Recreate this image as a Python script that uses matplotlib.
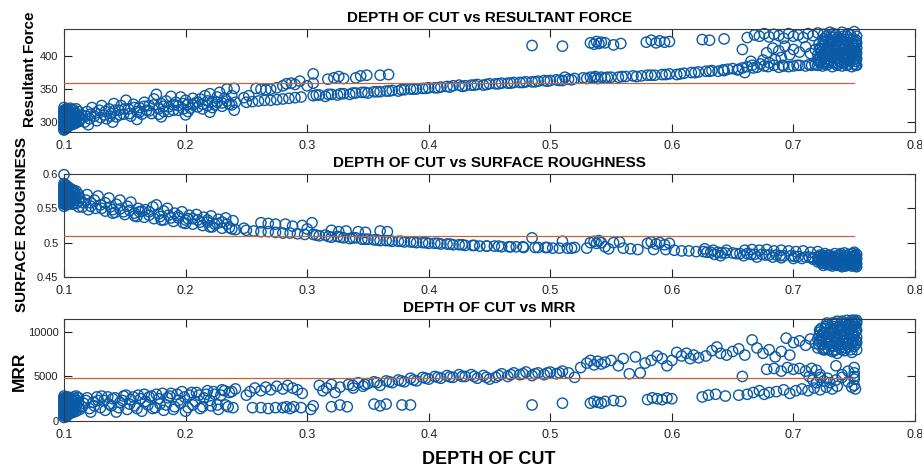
import matplotlib
matplotlib.use("Agg")
import matplotlib.pyplot as plt
import numpy as np

plt.rcParams["font.family"] = ["Liberation Sans", "DejaVu Sans"]

# ---------------------------------------------------------------
# Depth of cut vs resultant force  (depth, force)
# ---------------------------------------------------------------
force_start = [
    (0.100, 288), (0.100, 292), (0.100, 296), (0.100, 300), (0.100, 304), (0.100, 308), (0.100, 312), (0.100, 316),
    (0.101, 290), (0.101, 294), (0.101, 298), (0.101, 302), (0.101, 306), (0.101, 310), (0.101, 314),
    (0.102, 291), (0.102, 296), (0.102, 301), (0.102, 306), (0.102, 311), (0.102, 316),
    (0.103, 293), (0.103, 298), (0.103, 303), (0.103, 308), (0.103, 313),
    (0.104, 294), (0.104, 300), (0.104, 306), (0.104, 312), (0.104, 318),
    (0.106, 296), (0.106, 302), (0.106, 309), (0.106, 315),
    (0.108, 297), (0.108, 304), (0.108, 311), (0.108, 318),
    (0.110, 299), (0.110, 306), (0.110, 313), (0.110, 320),
    (0.100, 289), (0.100, 294), (0.100, 298), (0.100, 302), (0.100, 306), (0.100, 310), (0.100, 314),
    (0.100, 318), (0.100, 322), (0.101, 292), (0.101, 296), (0.101, 300), (0.101, 304), (0.101, 308),
    (0.101, 312), (0.101, 318), (0.102, 293), (0.102, 298), (0.102, 303), (0.102, 308), (0.102, 313),
    (0.102, 320), (0.103, 295), (0.103, 300), (0.103, 305), (0.103, 310), (0.103, 316), (0.105, 297),
    (0.105, 303), (0.105, 309), (0.105, 314), (0.105, 321), (0.107, 298), (0.107, 305), (0.107, 312),
    (0.107, 319), (0.109, 300), (0.109, 307), (0.109, 314), (0.112, 301), (0.112, 309), (0.112, 316),
]
force_rise = [
    (0.113, 303), (0.115, 310), (0.117, 300), (0.119, 316), (0.121, 305), (0.123, 322), (0.125, 309),
    (0.127, 302), (0.129, 318), (0.131, 325), (0.133, 311), (0.135, 305), (0.137, 320), (0.139, 313),
    (0.141, 328), (0.143, 308), (0.145, 318), (0.147, 325), (0.149, 312), (0.151, 333), (0.153, 320),
    (0.155, 309), (0.157, 327), (0.160, 316), (0.162, 322), (0.164, 312), (0.166, 330), (0.168, 318),
    (0.170, 325), (0.172, 313), (0.174, 335), (0.176, 342), (0.178, 320), (0.180, 328), (0.182, 316),
    (0.184, 332), (0.186, 323), (0.188, 339), (0.190, 318), (0.192, 330), (0.194, 325), (0.196, 338),
    (0.198, 320), (0.200, 333), (0.202, 327), (0.204, 321), (0.206, 336), (0.208, 329), (0.210, 323),
    (0.212, 335), (0.214, 327), (0.216, 340), (0.218, 325), (0.220, 343), (0.222, 331), (0.224, 326),
    (0.226, 338), (0.228, 345), (0.230, 329), (0.232, 336), (0.234, 350), (0.236, 327), (0.238, 340),
    (0.240, 351), (0.241, 330),
    (0.120, 296), (0.140, 300), (0.160, 304), (0.180, 308), (0.200, 311), (0.220, 315), (0.240, 318),
    (0.114, 306), (0.118, 309), (0.122, 312), (0.126, 314), (0.130, 307), (0.134, 316), (0.138, 309),
    (0.142, 318), (0.146, 311), (0.150, 320), (0.154, 313), (0.158, 322), (0.162, 315), (0.166, 324),
    (0.170, 317), (0.174, 326), (0.178, 312), (0.182, 324), (0.186, 316), (0.190, 326), (0.194, 318),
    (0.198, 328), (0.202, 316), (0.206, 326), (0.210, 330), (0.214, 320), (0.218, 332), (0.222, 322),
    (0.226, 330), (0.230, 324), (0.234, 332), (0.238, 326),
]
force_middle = [
    (0.250, 330), (0.255, 331), (0.260, 332), (0.265, 333), (0.270, 333), (0.275, 334), (0.280, 335),
    (0.285, 336), (0.290, 337), (0.295, 338),
    (0.248, 337), (0.252, 340), (0.258, 351), (0.262, 350), (0.266, 349), (0.270, 350), (0.275, 352),
    (0.280, 355), (0.283, 358), (0.287, 359), (0.290, 357), (0.294, 362), (0.300, 355), (0.305, 359),
    (0.305, 373),
    (0.305, 340), (0.310, 341), (0.315, 339), (0.320, 342), (0.325, 341), (0.330, 343), (0.335, 342),
    (0.340, 344), (0.345, 345), (0.350, 344), (0.355, 346), (0.360, 346), (0.365, 347), (0.370, 348),
    (0.375, 347), (0.380, 349), (0.385, 350), (0.390, 350), (0.395, 351), (0.400, 352), (0.405, 352),
    (0.410, 353), (0.415, 354), (0.420, 355), (0.425, 356), (0.430, 355),
    (0.3075, 341), (0.3175, 342), (0.3275, 343), (0.3375, 344), (0.3475, 345), (0.3575, 346),
    (0.3675, 347), (0.3775, 349), (0.3875, 350), (0.3975, 351), (0.4075, 352), (0.4175, 353),
    (0.4275, 354), (0.4375, 356), (0.4475, 357), (0.4575, 358), (0.4675, 359), (0.4775, 360),
    (0.4875, 361), (0.4975, 362), (0.5075, 363), (0.5175, 364),
    (0.317, 365), (0.322, 367), (0.326, 369), (0.330, 366), (0.340, 367), (0.344, 370), (0.349, 371),
    (0.360, 371), (0.367, 372),
    (0.435, 356), (0.440, 357), (0.445, 356), (0.450, 358), (0.455, 358), (0.460, 359), (0.465, 359),
    (0.470, 360), (0.475, 360), (0.480, 361), (0.485, 361), (0.490, 362), (0.495, 363), (0.500, 363),
    (0.505, 364), (0.510, 363), (0.515, 365), (0.520, 366), (0.512, 368),
    (0.530, 366), (0.533, 368), (0.536, 367), (0.539, 366), (0.542, 368), (0.545, 367), (0.550, 368),
    (0.556, 368), (0.562, 369), (0.568, 370), (0.575, 370), (0.580, 371), (0.586, 371), (0.592, 372),
    (0.598, 373), (0.604, 372), (0.610, 374), (0.616, 375),
    (0.527, 367), (0.537, 369), (0.547, 368), (0.559, 369), (0.571, 369), (0.583, 371), (0.595, 372),
    (0.607, 373), (0.619, 375), (0.631, 377), (0.643, 378), (0.655, 380), (0.667, 382), (0.679, 384),
    (0.691, 386), (0.703, 386), (0.713, 387),
    (0.622, 376), (0.628, 377), (0.633, 378), (0.638, 377), (0.642, 379), (0.646, 380), (0.650, 381),
    (0.654, 379), (0.658, 382), (0.662, 384), (0.666, 386), (0.670, 383), (0.673, 388), (0.676, 385),
    (0.680, 390), (0.684, 386), (0.688, 383), (0.692, 385), (0.696, 384), (0.700, 385), (0.705, 386),
    (0.710, 385), (0.715, 386), (0.718, 387), (0.660, 375),
    (0.665, 392), (0.675, 394), (0.685, 395), (0.690, 398),
]
force_high = [
    (0.485, 416), (0.510, 415), (0.533, 420), (0.536, 418), (0.538, 422), (0.540, 419), (0.542, 421),
    (0.545, 420), (0.552, 417), (0.558, 419), (0.579, 421), (0.583, 424), (0.587, 420), (0.590, 423),
    (0.594, 421), (0.598, 422), (0.625, 425), (0.631, 424), (0.643, 426), (0.658, 410), (0.662, 428),
    (0.668, 432), (0.672, 430), (0.676, 434), (0.680, 429), (0.684, 433), (0.688, 431), (0.692, 427),
    (0.696, 434), (0.700, 430), (0.704, 432), (0.708, 428), (0.712, 434), (0.716, 431), (0.720, 435),
    (0.725, 433), (0.730, 436), (0.735, 432), (0.740, 436), (0.745, 434), (0.750, 437),
    (0.678, 405), (0.683, 412), (0.688, 408), (0.693, 415), (0.697, 402), (0.700, 410), (0.705, 406),
    (0.710, 414), (0.714, 404), (0.718, 410), (0.722, 400), (0.745, 402), (0.750, 408), (0.750, 415),
    (0.748, 420),
]
force_end = [
    (0.720, 386), (0.720, 394), (0.720, 402), (0.722, 390), (0.722, 410), (0.724, 385), (0.724, 398),
    (0.724, 415), (0.726, 392), (0.726, 405), (0.726, 420), (0.728, 387), (0.728, 400), (0.728, 412),
    (0.728, 425), (0.730, 394), (0.730, 406), (0.730, 418), (0.732, 384), (0.732, 398), (0.732, 410),
    (0.732, 428), (0.734, 390), (0.734, 404), (0.734, 416), (0.736, 386), (0.736, 396), (0.736, 408),
    (0.736, 422), (0.738, 392), (0.738, 402), (0.738, 414), (0.740, 385), (0.740, 398), (0.740, 410),
    (0.740, 426), (0.742, 390), (0.742, 404), (0.742, 418), (0.744, 386), (0.744, 396), (0.744, 408),
    (0.744, 430), (0.746, 392), (0.746, 402), (0.746, 414), (0.748, 384), (0.748, 398), (0.748, 410),
    (0.750, 388), (0.750, 396), (0.750, 404), (0.750, 412), (0.751, 392), (0.751, 400), (0.752, 386),
    (0.752, 420), (0.752, 430),
    (0.721, 398), (0.723, 406), (0.725, 388), (0.727, 396), (0.729, 408), (0.731, 390), (0.733, 402),
    (0.735, 420), (0.737, 388), (0.739, 406), (0.741, 394), (0.743, 412), (0.745, 388), (0.747, 406),
    (0.749, 394), (0.751, 418), (0.751, 386), (0.749, 426), (0.747, 432), (0.739, 424), (0.731, 424),
    (0.725, 426), (0.741, 430), (0.733, 434), (0.727, 430), (0.745, 420), (0.737, 416), (0.729, 418),
    (0.721, 418), (0.751, 408), (0.752, 396), (0.752, 405), (0.752, 412),
    (0.7215, 392), (0.7215, 412), (0.7245, 402), (0.7245, 422), (0.7275, 390), (0.7275, 410),
    (0.7305, 400), (0.7305, 430), (0.7335, 396), (0.7335, 412), (0.7365, 402), (0.7365, 428),
    (0.7395, 390), (0.7395, 418), (0.7425, 398), (0.7425, 425), (0.7455, 410), (0.7455, 396),
    (0.7485, 404), (0.7485, 416), (0.7515, 396), (0.7515, 424),
]
force_ref = 359

# ---------------------------------------------------------------
# Depth of cut vs surface roughness  (depth, roughness)
# ---------------------------------------------------------------
rough_start = [
    (0.100, 0.599), (0.100, 0.586), (0.100, 0.580), (0.100, 0.574), (0.100, 0.568), (0.100, 0.562),
    (0.100, 0.556), (0.101, 0.584), (0.101, 0.577), (0.101, 0.570), (0.101, 0.563), (0.101, 0.556),
    (0.102, 0.583), (0.102, 0.575), (0.102, 0.567), (0.102, 0.559), (0.103, 0.581), (0.103, 0.573),
    (0.103, 0.565), (0.103, 0.557), (0.104, 0.580), (0.104, 0.571), (0.104, 0.562), (0.106, 0.578),
    (0.106, 0.569), (0.106, 0.560), (0.108, 0.576), (0.108, 0.567), (0.108, 0.558), (0.110, 0.575),
    (0.110, 0.565), (0.110, 0.557),
    (0.100, 0.583), (0.100, 0.577), (0.100, 0.571), (0.100, 0.565), (0.100, 0.559), (0.100, 0.553),
    (0.101, 0.580), (0.101, 0.573), (0.101, 0.566), (0.101, 0.559), (0.102, 0.579), (0.102, 0.571),
    (0.102, 0.563), (0.102, 0.555), (0.103, 0.577), (0.103, 0.569), (0.103, 0.561), (0.105, 0.576),
    (0.105, 0.567), (0.105, 0.558), (0.107, 0.574), (0.107, 0.565), (0.107, 0.556), (0.109, 0.572),
    (0.109, 0.562), (0.112, 0.570), (0.112, 0.560), (0.112, 0.552),
]
rough_fall = [
    (0.113, 0.565), (0.116, 0.558), (0.119, 0.570), (0.122, 0.553), (0.125, 0.562), (0.128, 0.568),
    (0.131, 0.550), (0.134, 0.558), (0.137, 0.565), (0.140, 0.548), (0.143, 0.556), (0.146, 0.562),
    (0.149, 0.545), (0.152, 0.553), (0.155, 0.559), (0.158, 0.543), (0.161, 0.550), (0.164, 0.546),
    (0.167, 0.548), (0.170, 0.540), (0.173, 0.552), (0.176, 0.555), (0.179, 0.538), (0.182, 0.546),
    (0.185, 0.550), (0.188, 0.536), (0.191, 0.543), (0.194, 0.539), (0.197, 0.545), (0.200, 0.533),
    (0.203, 0.540), (0.206, 0.535), (0.209, 0.541), (0.212, 0.530), (0.215, 0.537), (0.218, 0.533),
    (0.221, 0.539), (0.224, 0.527), (0.227, 0.534), (0.230, 0.530), (0.233, 0.536), (0.236, 0.522),
    (0.239, 0.532), (0.241, 0.519),
    (0.120, 0.548), (0.140, 0.543), (0.160, 0.538), (0.180, 0.533), (0.200, 0.528), (0.220, 0.523),
    (0.115, 0.552), (0.118, 0.562), (0.122, 0.558), (0.126, 0.550), (0.130, 0.555), (0.134, 0.546),
    (0.138, 0.552), (0.142, 0.544), (0.146, 0.549), (0.150, 0.541), (0.154, 0.547), (0.158, 0.539),
    (0.162, 0.545), (0.166, 0.537), (0.170, 0.545), (0.174, 0.535), (0.178, 0.542), (0.182, 0.533),
    (0.186, 0.540), (0.190, 0.531), (0.194, 0.536), (0.198, 0.529), (0.202, 0.535), (0.206, 0.527),
    (0.210, 0.533), (0.214, 0.525), (0.218, 0.530), (0.222, 0.523), (0.226, 0.528), (0.230, 0.521),
    (0.234, 0.527), (0.238, 0.520),
]
rough_middle = [
    (0.250, 0.518), (0.256, 0.517), (0.262, 0.516), (0.268, 0.516), (0.274, 0.515), (0.280, 0.514),
    (0.286, 0.514), (0.292, 0.513), (0.298, 0.512),
    (0.248, 0.521), (0.262, 0.529), (0.268, 0.528), (0.274, 0.527), (0.282, 0.527), (0.288, 0.524),
    (0.296, 0.525), (0.304, 0.529), (0.300, 0.520),
    (0.305, 0.512), (0.310, 0.510), (0.315, 0.511), (0.320, 0.508), (0.325, 0.509), (0.330, 0.507),
    (0.335, 0.506), (0.340, 0.507), (0.345, 0.505), (0.350, 0.505), (0.355, 0.504), (0.360, 0.503),
    (0.365, 0.503), (0.370, 0.502), (0.375, 0.502), (0.380, 0.501), (0.385, 0.501), (0.390, 0.500),
    (0.395, 0.500), (0.400, 0.499), (0.405, 0.499), (0.410, 0.498), (0.415, 0.498), (0.420, 0.497),
    (0.425, 0.497),
    (0.3075, 0.511), (0.3175, 0.509), (0.3275, 0.508), (0.3375, 0.507), (0.3475, 0.505),
    (0.3575, 0.504), (0.3675, 0.503), (0.3775, 0.502), (0.3875, 0.501), (0.3975, 0.500),
    (0.4075, 0.499), (0.4175, 0.498), (0.4275, 0.497), (0.4375, 0.496), (0.4475, 0.495),
    (0.4575, 0.495), (0.4675, 0.494), (0.4775, 0.494), (0.4875, 0.493), (0.4975, 0.493),
    (0.5075, 0.492), (0.5175, 0.492),
    (0.320, 0.518), (0.326, 0.516), (0.332, 0.517), (0.342, 0.516), (0.348, 0.515), (0.360, 0.517),
    (0.366, 0.516),
    (0.430, 0.496), (0.436, 0.496), (0.442, 0.495), (0.448, 0.495), (0.454, 0.495), (0.460, 0.494),
    (0.466, 0.494), (0.472, 0.494), (0.478, 0.493), (0.485, 0.507), (0.490, 0.493), (0.496, 0.493),
    (0.502, 0.492), (0.510, 0.502), (0.514, 0.492), (0.520, 0.493),
    (0.530, 0.492), (0.533, 0.500), (0.536, 0.502), (0.538, 0.499), (0.540, 0.503), (0.542, 0.500),
    (0.545, 0.494), (0.548, 0.491), (0.552, 0.500), (0.557, 0.501), (0.560, 0.492), (0.566, 0.491),
    (0.572, 0.490), (0.580, 0.499), (0.583, 0.501), (0.587, 0.498), (0.590, 0.500), (0.594, 0.497),
    (0.598, 0.499), (0.585, 0.490), (0.595, 0.490), (0.602, 0.489), (0.608, 0.488), (0.614, 0.488),
    (0.620, 0.487),
    (0.626, 0.487), (0.632, 0.486), (0.638, 0.486), (0.644, 0.485), (0.650, 0.485), (0.656, 0.484),
    (0.662, 0.484), (0.668, 0.483), (0.674, 0.483), (0.680, 0.482), (0.686, 0.482), (0.692, 0.481),
    (0.698, 0.481), (0.704, 0.480), (0.710, 0.479), (0.716, 0.478), (0.640, 0.481), (0.670, 0.479),
    (0.700, 0.477), (0.690, 0.478),
    (0.629, 0.486), (0.641, 0.485), (0.653, 0.484), (0.665, 0.483), (0.677, 0.482), (0.689, 0.481),
    (0.701, 0.480), (0.713, 0.479), (0.635, 0.483), (0.659, 0.481), (0.683, 0.479), (0.707, 0.477),
    (0.716, 0.476),
    (0.627, 0.491), (0.634, 0.489), (0.645, 0.489), (0.660, 0.489), (0.666, 0.490), (0.672, 0.489),
    (0.678, 0.490), (0.684, 0.488), (0.690, 0.489), (0.696, 0.488), (0.702, 0.487), (0.708, 0.488),
    (0.714, 0.486), (0.720, 0.487),
]
rough_end = [
    (0.720, 0.478), (0.720, 0.472), (0.722, 0.482), (0.724, 0.476), (0.724, 0.470), (0.726, 0.484),
    (0.726, 0.479), (0.728, 0.473), (0.728, 0.468), (0.730, 0.481), (0.730, 0.476), (0.732, 0.471),
    (0.732, 0.466), (0.734, 0.484), (0.734, 0.478), (0.736, 0.473), (0.736, 0.467), (0.738, 0.482),
    (0.738, 0.476), (0.740, 0.470), (0.740, 0.465), (0.742, 0.485), (0.742, 0.479), (0.744, 0.474),
    (0.744, 0.468), (0.746, 0.483), (0.746, 0.477), (0.748, 0.471), (0.748, 0.466), (0.750, 0.486),
    (0.750, 0.480), (0.750, 0.474), (0.750, 0.468), (0.752, 0.483), (0.752, 0.477), (0.752, 0.470),
    (0.752, 0.465),
    (0.721, 0.480), (0.721, 0.474), (0.723, 0.477), (0.723, 0.471), (0.725, 0.481), (0.725, 0.474),
    (0.727, 0.477), (0.727, 0.470), (0.729, 0.482), (0.729, 0.474), (0.731, 0.478), (0.731, 0.468),
    (0.733, 0.480), (0.733, 0.474), (0.735, 0.476), (0.735, 0.469), (0.737, 0.479), (0.737, 0.471),
    (0.739, 0.484), (0.739, 0.467), (0.741, 0.476), (0.741, 0.472), (0.743, 0.481), (0.743, 0.466),
    (0.745, 0.479), (0.745, 0.470), (0.747, 0.474), (0.747, 0.468), (0.749, 0.484), (0.749, 0.478),
    (0.751, 0.472), (0.751, 0.466), (0.751, 0.481), (0.749, 0.468),
    (0.7215, 0.476), (0.7245, 0.481), (0.7245, 0.467), (0.7275, 0.475), (0.7305, 0.472),
    (0.7335, 0.469), (0.7365, 0.481), (0.7395, 0.474), (0.7425, 0.469), (0.7455, 0.475),
    (0.7485, 0.480), (0.7515, 0.475), (0.7515, 0.468), (0.7485, 0.473),
]
rough_ref = 0.51

# ---------------------------------------------------------------
# Depth of cut vs material removal rate  (depth, MRR)
# ---------------------------------------------------------------
mrr_start = [
    (0.100, 400), (0.100, 800), (0.100, 1200), (0.100, 1600), (0.100, 2000), (0.100, 2400), (0.100, 2800),
    (0.101, 600), (0.101, 1000), (0.101, 1400), (0.101, 1800), (0.101, 2200), (0.101, 2600),
    (0.102, 500), (0.102, 900), (0.102, 1300), (0.102, 1700), (0.102, 2100), (0.102, 2500),
    (0.103, 700), (0.103, 1100), (0.103, 1500), (0.103, 1900), (0.103, 2300), (0.103, 2700),
    (0.104, 800), (0.104, 1300), (0.104, 1800), (0.104, 2300),
    (0.106, 900), (0.106, 1400), (0.106, 1900), (0.106, 2400),
    (0.108, 1000), (0.108, 1600), (0.108, 2200), (0.108, 2700),
    (0.110, 1100), (0.110, 1700), (0.110, 2300), (0.110, 2800),
    (0.100, 600), (0.100, 1000), (0.100, 1400), (0.100, 1800), (0.100, 2200), (0.100, 2600),
    (0.101, 800), (0.101, 1200), (0.101, 1600), (0.101, 2000), (0.101, 2400), (0.102, 700),
    (0.102, 1100), (0.102, 1500), (0.102, 1900), (0.102, 2300), (0.102, 2700), (0.103, 900),
    (0.103, 1300), (0.103, 1700), (0.103, 2100), (0.103, 2500), (0.105, 1000), (0.105, 1500),
    (0.105, 2000), (0.105, 2500), (0.107, 1100), (0.107, 1700), (0.107, 2300), (0.109, 1300),
    (0.109, 1900), (0.109, 2500), (0.112, 1500), (0.112, 2100), (0.112, 2600),
]
mrr_rise = [
    (0.113, 1300), (0.116, 2000), (0.119, 2600), (0.122, 1000), (0.125, 1700), (0.128, 2300),
    (0.131, 2800), (0.134, 1200), (0.137, 1900), (0.140, 2500), (0.143, 1000), (0.146, 2100),
    (0.149, 2800), (0.152, 1300), (0.155, 2400), (0.158, 1700), (0.161, 2900), (0.164, 1100),
    (0.167, 2200), (0.170, 2700), (0.173, 1400), (0.176, 3000), (0.179, 1900), (0.182, 1200),
    (0.185, 2600), (0.188, 3100), (0.191, 1600), (0.194, 2300), (0.197, 3300), (0.200, 1100),
    (0.203, 2900), (0.206, 1800), (0.209, 3200), (0.212, 1400), (0.215, 2600), (0.218, 3400),
    (0.221, 1700), (0.224, 3000), (0.227, 1300), (0.230, 3500), (0.233, 1800), (0.236, 3200),
    (0.239, 1500), (0.241, 3600),
    (0.115, 1600), (0.118, 2300), (0.121, 1400), (0.124, 2100), (0.127, 2700), (0.130, 1500),
    (0.133, 2300), (0.136, 2700), (0.139, 1700), (0.142, 2600), (0.145, 1500), (0.148, 2300),
    (0.151, 2900), (0.154, 1900), (0.157, 2700), (0.160, 1400), (0.163, 2500), (0.166, 3000),
    (0.169, 1800), (0.172, 2800), (0.175, 1500), (0.178, 2500), (0.181, 3100), (0.184, 1800),
    (0.187, 2800), (0.190, 1300), (0.193, 3000), (0.196, 2000), (0.199, 2700), (0.202, 1500),
    (0.205, 3200), (0.208, 2200), (0.211, 2900), (0.214, 1600), (0.217, 3000), (0.220, 2300),
    (0.223, 3300), (0.226, 1800), (0.229, 2900), (0.232, 3400), (0.235, 1600), (0.238, 3300),
]
mrr_middle = [
    (0.250, 2900), (0.253, 3300), (0.257, 3700), (0.262, 3400), (0.266, 3800), (0.270, 3500),
    (0.275, 3900), (0.280, 3600), (0.284, 4000), (0.288, 3700), (0.292, 3500), (0.296, 3100),
    (0.255, 1500), (0.262, 1500), (0.268, 1400), (0.274, 1500), (0.280, 1500), (0.283, 1600),
    (0.286, 1400), (0.289, 1600), (0.295, 1500), (0.303, 1300), (0.305, 1700),
    (0.310, 4000), (0.313, 3400), (0.316, 3700), (0.320, 4100), (0.323, 3200), (0.327, 3800),
    (0.334, 4100), (0.338, 3700), (0.342, 4300), (0.346, 3900), (0.350, 4200), (0.355, 4400),
    (0.360, 4000), (0.365, 4500), (0.370, 4300), (0.375, 4600), (0.380, 4400), (0.385, 4800),
    (0.390, 4500), (0.395, 4900), (0.400, 4700), (0.405, 5000), (0.410, 4800), (0.415, 5100),
    (0.420, 4900), (0.425, 5200),
    (0.3375, 4000), (0.3475, 4100), (0.3575, 4300), (0.3675, 4400), (0.3775, 4500), (0.3875, 4600),
    (0.3975, 4800), (0.4075, 4900), (0.4175, 4950), (0.4275, 5000), (0.4375, 5000), (0.4475, 4900),
    (0.4575, 5100), (0.4675, 5200), (0.4775, 5300), (0.4875, 5300), (0.4975, 5400), (0.5075, 5400),
    (0.320, 1600), (0.327, 1800), (0.333, 1600), (0.355, 1900), (0.360, 1700), (0.365, 1900),
    (0.378, 1800), (0.385, 1800),
    (0.430, 5000), (0.435, 5200), (0.440, 4800), (0.445, 5100), (0.450, 4700), (0.455, 4900),
    (0.460, 5300), (0.465, 5000), (0.470, 5400), (0.475, 5200), (0.480, 5500), (0.485, 5100),
    (0.490, 5400), (0.495, 5200), (0.500, 5500), (0.505, 5300), (0.510, 5600), (0.515, 5400),
    (0.520, 4900), (0.485, 1800), (0.510, 2000),
    (0.525, 6000), (0.530, 6500), (0.533, 6800), (0.536, 6300), (0.539, 6700), (0.542, 6400),
    (0.545, 6600), (0.550, 6800), (0.556, 6200), (0.560, 7000), (0.565, 5300), (0.570, 7200),
    (0.574, 5400), (0.578, 6500), (0.583, 6800), (0.588, 7300), (0.592, 7000), (0.596, 6200),
    (0.600, 6800), (0.604, 7700), (0.608, 7300), (0.612, 7600), (0.615, 7000), (0.618, 7400),
    (0.622, 7100),
    (0.533, 2000), (0.536, 2200), (0.539, 2100), (0.542, 2000), (0.545, 2200), (0.552, 2300),
    (0.558, 2200), (0.580, 2400), (0.584, 2600), (0.588, 2500), (0.592, 2400), (0.596, 2600),
    (0.600, 2500),
]
mrr_late = [
    (0.628, 7300), (0.633, 7900), (0.637, 8300), (0.640, 7600), (0.645, 7400), (0.650, 7800),
    (0.655, 8100), (0.660, 7400), (0.666, 9100), (0.670, 8200), (0.675, 7600), (0.680, 8000),
    (0.685, 7200), (0.690, 7800), (0.694, 9300), (0.697, 7400), (0.700, 8800), (0.705, 9000),
    (0.710, 8500), (0.714, 9200), (0.718, 8700),
    (0.658, 5000), (0.678, 5800), (0.684, 5900), (0.690, 5600), (0.695, 6000), (0.700, 5800),
    (0.705, 5900), (0.710, 5600), (0.715, 5900), (0.719, 5700),
    (0.713, 5000), (0.716, 4600), (0.719, 4300), (0.722, 4900), (0.725, 4500), (0.728, 4800),
    (0.722, 5200), (0.730, 4300), (0.735, 4600),
    (0.625, 2700), (0.630, 2900), (0.636, 3000), (0.644, 2800), (0.655, 2900), (0.662, 3000),
    (0.667, 3200), (0.672, 3400), (0.676, 3000), (0.680, 3200), (0.686, 3300), (0.692, 3500),
    (0.697, 3100), (0.702, 3400), (0.707, 3600), (0.712, 3400), (0.717, 3700), (0.722, 3500),
    (0.727, 3800), (0.732, 3600), (0.736, 3900), (0.748, 3800), (0.751, 3600), (0.750, 4000),
    (0.740, 5200), (0.745, 5600), (0.750, 5000), (0.750, 5400), (0.750, 6000), (0.735, 6200),
    (0.740, 4900), (0.745, 4400), (0.750, 4700),
]
mrr_end = [
    (0.720, 8200), (0.720, 9200), (0.722, 10000), (0.724, 8600), (0.724, 9600), (0.726, 10400),
    (0.726, 8000), (0.728, 9000), (0.728, 10800), (0.730, 8400), (0.730, 9800), (0.732, 7800),
    (0.732, 10200), (0.734, 8800), (0.734, 11000), (0.736, 9400), (0.736, 7600), (0.738, 10600),
    (0.738, 8200), (0.740, 9000), (0.740, 11200), (0.742, 7900), (0.742, 9800), (0.744, 10400),
    (0.744, 8600), (0.746, 11000), (0.746, 9200), (0.748, 7700), (0.748, 10000), (0.750, 8400),
    (0.750, 9600), (0.750, 10800), (0.750, 11300), (0.752, 8000), (0.752, 8800), (0.752, 9400),
    (0.752, 10200), (0.752, 11000), (0.752, 11300), (0.748, 11300), (0.744, 11300),
    (0.721, 8600), (0.721, 9600), (0.723, 9200), (0.723, 10400), (0.725, 8200), (0.725, 9800),
    (0.727, 8800), (0.727, 10600), (0.729, 9400), (0.729, 8000), (0.731, 10000), (0.731, 9000),
    (0.733, 8400), (0.733, 10600), (0.735, 9800), (0.735, 8000), (0.737, 10200), (0.737, 9000),
    (0.739, 11000), (0.739, 8600), (0.741, 9400), (0.741, 10600), (0.743, 8200), (0.743, 11000),
    (0.745, 9800), (0.745, 8800), (0.747, 10400), (0.747, 8000), (0.749, 9200), (0.749, 11000),
    (0.751, 8600), (0.751, 10000), (0.751, 10600), (0.749, 10600), (0.746, 10800), (0.740, 10200),
    (0.732, 11000), (0.736, 11200),
    (0.7215, 8900), (0.7215, 10200), (0.7245, 8000), (0.7245, 9900), (0.7275, 9300),
    (0.7275, 11000), (0.7305, 8700), (0.7305, 10500), (0.7335, 9300), (0.7335, 7900),
    (0.7365, 10500), (0.7365, 8500), (0.7395, 9700), (0.7395, 8000), (0.7425, 10900),
    (0.7425, 9000), (0.7455, 8300), (0.7455, 10200), (0.7485, 9600), (0.7485, 8800),
    (0.7515, 9000), (0.7515, 11100),
]
mrr_ref = 4850

depth_ticks = [0.1, 0.2, 0.3, 0.4, 0.5, 0.6, 0.7, 0.8]
depth_tick_labels = ["0.1", "0.2", "0.3", "0.4", "0.5", "0.6", "0.7", "0.8"]
ref_span = (0.1, 0.75)

panels = [
    dict(title="DEPTH OF CUT vs RESULTANT FORCE",
         groups=[force_start, force_rise, force_middle, force_high, force_end],
         ref=force_ref, ylim=(285, 441), yticks=[300, 350, 400],
         yticklabels=["300", "350", "400"]),
    dict(title="DEPTH OF CUT vs SURFACE ROUGHNESS",
         groups=[rough_start, rough_fall, rough_middle, rough_end],
         ref=rough_ref, ylim=(0.45, 0.6), yticks=[0.45, 0.5, 0.55, 0.6],
         yticklabels=["0.45", "0.5", "0.55", "0.6"]),
    dict(title="DEPTH OF CUT vs MRR",
         groups=[mrr_start, mrr_rise, mrr_middle, mrr_late, mrr_end],
         ref=mrr_ref, ylim=(0, 11450), yticks=[0, 5000, 10000],
         yticklabels=["0", "5000", "10000"]),
]

W, H = 922, 468
fig = plt.figure(figsize=(W / 100, H / 100), dpi=100)

# axes boxes in pixels: (left, top, right, bottom)
boxes = [(64, 29, 915, 132), (64, 174, 915, 277), (64, 319, 915, 421)]

marker_color = "#0b5aa6"
line_color = "#c4643e"
spine_color = "#3a3a3a"

for (l, t, r, b), p in zip(boxes, panels):
    ax = fig.add_axes([l / W, 1 - b / H, (r - l) / W, (b - t) / H])
    pts = np.array([pt for g in p["groups"] for pt in g])
    ax.scatter(pts[:, 0], pts[:, 1], s=55, facecolors="none",
               edgecolors=marker_color, linewidths=1.0, clip_on=False, zorder=2)
    ax.plot(ref_span, [p["ref"], p["ref"]], color=line_color, lw=0.9, zorder=3)
    ax.set_xlim(0.1, 0.8)
    ax.set_ylim(*p["ylim"])
    ax.set_xticks(depth_ticks)
    ax.set_xticklabels(depth_tick_labels)
    ax.set_yticks(p["yticks"])
    ax.set_yticklabels(p["yticklabels"])
    ax.tick_params(axis="both", direction="in", length=6, width=0.8,
                   top=True, right=True, colors="#222222")
    ax.tick_params(axis="x", labelsize=9, pad=6)
    ax.tick_params(axis="y", labelsize=8, pad=4)
    for s in ax.spines.values():
        s.set_color(spine_color)
        s.set_linewidth(0.8)
    ax.set_title(p["title"], fontsize=11, fontweight="bold", pad=5)

fig.text(30 / W, 1 - 69 / H, "Resultant Force", rotation=90, ha="center",
         va="center", fontsize=11, fontweight="bold")
fig.text(22 / W, 1 - 224 / H, "SURFACE ROUGHNESS", rotation=90, ha="center",
         va="center", fontsize=11, fontweight="bold")
fig.text(19 / W, 1 - 371 / H, "MRR", rotation=90, ha="center",
         va="center", fontsize=12.5, fontweight="bold")
fig.text(489 / W, 1 - 459 / H, "DEPTH OF CUT", ha="center", va="center",
         fontsize=13, fontweight="bold")

fig.savefig("out.png", dpi=100)
